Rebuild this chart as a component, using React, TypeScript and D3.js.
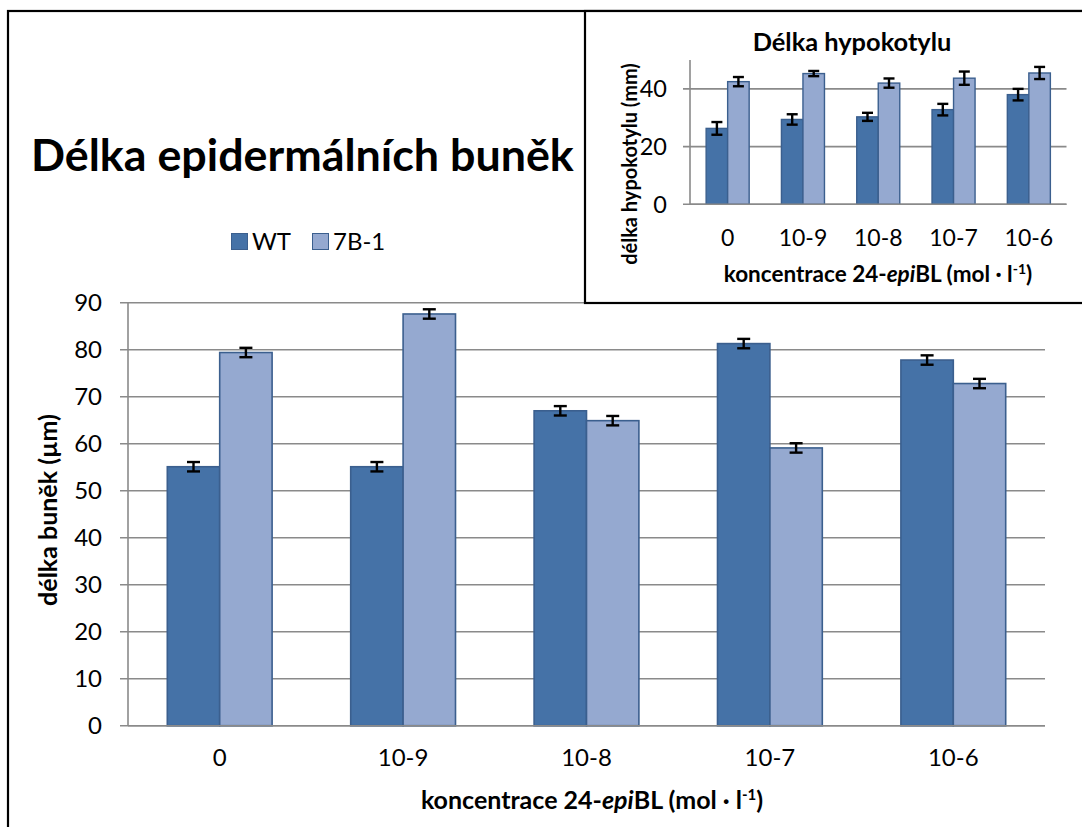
import React from "react";
import * as d3 from "d3";

const categories = ["0", "10-9", "10-8", "10-7", "10-6"];
const seriesNames = ["WT", "7B-1"];
const mainWT = [55.1, 55.1, 67.0, 81.3, 77.8];
const main7B = [79.4, 87.6, 64.9, 59.1, 72.8];
const mainErrWT = [1.0, 1.0, 1.0, 1.0, 1.0];
const mainErr7B = [1.0, 1.0, 1.0, 1.0, 1.0];
const mainTicks = [0, 10, 20, 30, 40, 50, 60, 70, 80, 90];

const insetWT = [26.3, 29.4, 30.3, 32.8, 38.0];
const inset7B = [42.5, 45.3, 42.0, 43.7, 45.5];
const insetErrWT = [2.2, 1.8, 1.4, 2.0, 2.0];
const insetErr7B = [1.6, 0.9, 1.6, 2.3, 2.1];
const insetTicks = [0, 20, 40];

const FONT = "Lato, 'Noto Sans', sans-serif";
const C_WT = "#4572a7";
const C_7B = "#95a9d0";
const C_EDGE = "#3b5f8e";
const GRID = "#8a8a8a";

function Bars({ x0, x1, y, wt, b7, ewt, e7, capW, sw }) {
  const out = [];
  categories.forEach((c, i) => {
    const gx = x0(c);
    const vals = [wt[i], b7[i]];
    const errs = [ewt[i], e7[i]];
    seriesNames.forEach((s, j) => {
      const bx = gx + x1(s);
      const bw = x1.bandwidth();
      const yv = y(vals[j]);
      out.push(
        <rect key={`b${i}${j}`} x={bx} y={yv} width={bw} height={y(0) - yv}
          fill={j === 0 ? C_WT : C_7B} stroke={C_EDGE} strokeWidth={sw} />
      );
      const cx = bx + bw / 2;
      const yt = y(vals[j] + errs[j]);
      const yb = y(vals[j] - errs[j]);
      out.push(
        <g key={`e${i}${j}`} stroke="#000" strokeWidth={2.4}>
          <line x1={cx} x2={cx} y1={yt} y2={yb} />
          <line x1={cx - capW / 2} x2={cx + capW / 2} y1={yt} y2={yt} />
          <line x1={cx - capW / 2} x2={cx + capW / 2} y1={yb} y2={yb} />
        </g>
      );
    });
  });
  return <g>{out}</g>;
}

export default function App() {
  // main chart
  const mL = 128, mR = 1045, mT = 302.7, mB = 725.7;
  const yM = d3.scaleLinear().domain([0, 90]).range([mB, mT]);
  const xM0 = d3.scaleBand().domain(categories).range([mL, mR]).paddingInner(0).paddingOuter(0);
  const gw = xM0.bandwidth();
  const bw = gw / 3.5;
  const xM1 = d3.scaleBand().domain(seriesNames).range([0.75 * bw, 0.75 * bw + 2 * bw]);

  // inset chart
  const iL = 690, iR = 1066.5, iT = 60, iB = 204.3;
  const yI = d3.scaleLinear().domain([0, 50]).range([iB, iT]);
  const xI0 = d3.scaleBand().domain(categories).range([iL, iR]);
  const ibw = xI0.bandwidth() / 3.5;
  const xI1 = d3.scaleBand().domain(seriesNames).range([0.75 * ibw, 0.75 * ibw + 2 * ibw]);

  return (
    <div style={{ position: "absolute", left: 0, top: 0 }}>
      <svg width={1082} height={827} style={{ display: "block", fontFamily: FONT }}>
        <rect x={0} y={0} width={1082} height={827} fill="#fff" />
        <rect x={8} y={11} width={1090} height={840} fill="#fff" stroke="#000" strokeWidth={2.2} />

        {/* main title */}
        <text x={31} y={171} fontSize={44.8} fontWeight={700} fill="#000">Délka epidermálních buněk</text>

        {/* legend */}
        <rect x={231.5} y={233.5} width={16} height={16} fill={C_WT} stroke={C_EDGE} strokeWidth={1} />
        <text x={252} y={250} fontSize={24} fill="#000">WT</text>
        <rect x={312.5} y={233.5} width={16} height={16} fill={C_7B} stroke={C_EDGE} strokeWidth={1} />
        <text x={333} y={250} fontSize={24} fill="#000">7B-1</text>

        {/* main grid */}
        {mainTicks.map((t) => (
          <g key={`g${t}`}>
            <line x1={mL - 8} x2={mR} y1={yM(t)} y2={yM(t)} stroke={GRID} strokeWidth={1.6} />
            <text x={102} y={yM(t)} dy="0.36em" textAnchor="end" fontSize={24} fill="#000">{t}</text>
          </g>
        ))}
        <line x1={mL} x2={mL} y1={mT} y2={mB} stroke={GRID} strokeWidth={1.6} />

        <Bars x0={xM0} x1={xM1} y={yM} wt={mainWT} b7={main7B} ewt={mainErrWT} e7={mainErr7B} capW={13} sw={1.6} />
        <line x1={mL} x2={mR} y1={mB} y2={mB} stroke={GRID} strokeWidth={1.6} />

        {categories.map((c) => (
          <text key={`xl${c}`} x={xM0(c) + gw / 2} y={766} textAnchor="middle" fontSize={24} fill="#000">{c}</text>
        ))}
        <text x={592} y={809} textAnchor="middle" fontSize={25} fontWeight={700} fill="#000">
          koncentrace 24-<tspan fontStyle="italic">epi</tspan>BL (mol · l<tspan dy={-9} fontSize={15}>-1</tspan><tspan dy={9}>)</tspan>
        </text>
        <text transform="translate(57,510) rotate(-90)" textAnchor="middle" fontSize={25} fontWeight={700} fill="#000">délka buněk (µm)</text>

        {/* inset */}
        <rect x={585} y={11} width={520} height={292} fill="#fff" stroke="#000" strokeWidth={2.2} />
        <text x={852} y={51} textAnchor="middle" fontSize={25.4} fontWeight={700} fill="#000">Délka hypokotylu</text>
        {insetTicks.map((t) => (
          <g key={`ig${t}`}>
            <line x1={iL - 7} x2={iR} y1={yI(t)} y2={yI(t)} stroke={GRID} strokeWidth={1.6} />
            <text x={667} y={yI(t)} dy="0.36em" textAnchor="end" fontSize={23.5} fill="#000">{t}</text>
          </g>
        ))}
        <line x1={iL} x2={iL} y1={iT} y2={iB} stroke={GRID} strokeWidth={1.6} />
        <Bars x0={xI0} x1={xI1} y={yI} wt={insetWT} b7={inset7B} ewt={insetErrWT} e7={insetErr7B} capW={11} sw={1.4} />
        <line x1={iL} x2={iR} y1={iB} y2={iB} stroke={GRID} strokeWidth={1.6} />
        {categories.map((c) => (
          <text key={`ixl${c}`} x={xI0(c) + xI0.bandwidth() / 2} y={246} textAnchor="middle" fontSize={23} fill="#000">{c}</text>
        ))}
        <text x={878} y={282} textAnchor="middle" fontSize={22.5} fontWeight={700} fill="#000">
          koncentrace 24-<tspan fontStyle="italic">epi</tspan>BL (mol · l<tspan dy={-8} fontSize={14}>-1</tspan><tspan dy={8}>)</tspan>
        </text>
        <text transform="translate(637,164) rotate(-90)" textAnchor="middle" fontSize={20} fontWeight={700} fill="#000">délka hypokotylu (mm)</text>
      </svg>
    </div>
  );
}
